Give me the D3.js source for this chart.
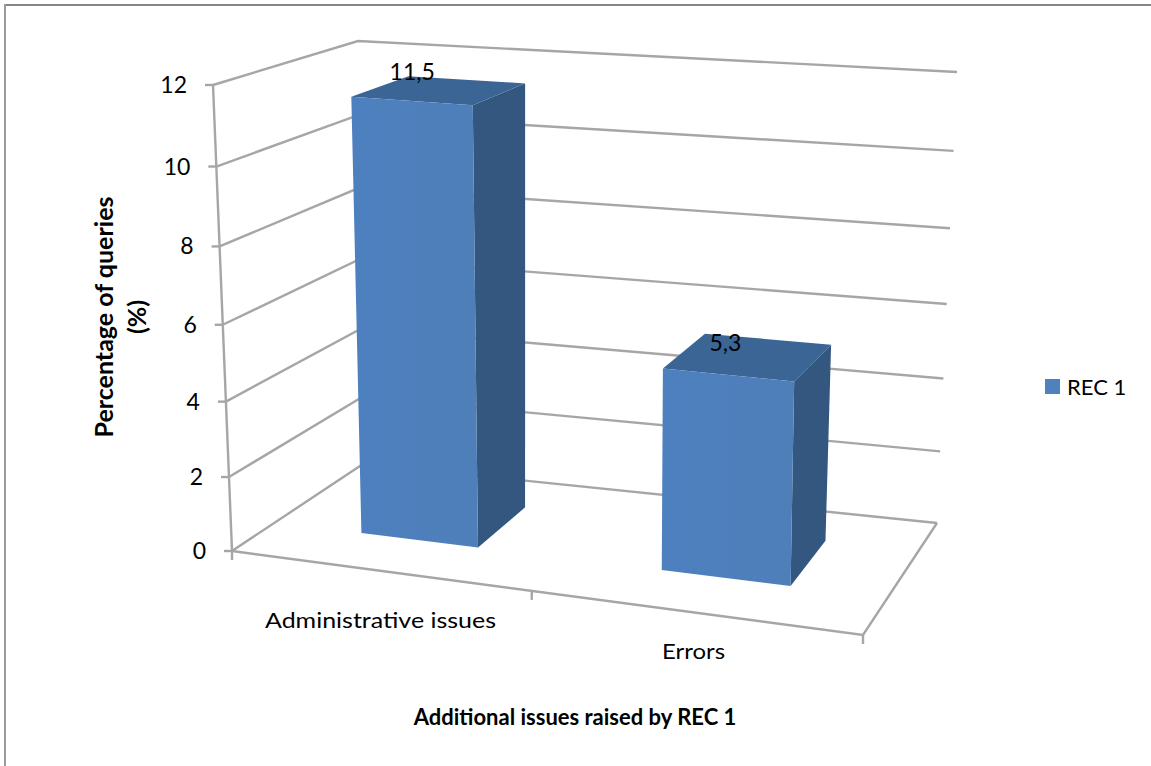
<!DOCTYPE html>
<html>
<head>
<meta charset="utf-8">
<script src="https://cdn.jsdelivr.net/npm/d3@7"></script>
<style>
  html, body { margin: 0; padding: 0; background: #fff; overflow: hidden; }
  svg { display: block; }
  text { font-family: Lato, "Open Sans", sans-serif; fill: #000; }
</style>
</head>
<body>
<div id="chart"></div>
<script>
// Values shown in the chart
const categories = ["Administrative issues", "Errors"];
const seriesName = "REC 1";
const seriesValues = [11.5, 5.3];
const valueLabels = ["11,5", "5,3"];
const yTicks = [0, 2, 4, 6, 8, 10, 12];
const xTitle = "Additional issues raised by REC 1";
const yTitleLines = ["Percentage of queries", "(%)"];

const width = 1151, height = 766;

const svg = d3.select("#chart").append("svg")
  .attr("width", width).attr("height", height);

// Frame: only the top and left edges fall inside the canvas
svg.append("line").attr("x1", 4).attr("x2", width).attr("y1", 5).attr("y2", 5)
  .attr("stroke", "#868686").attr("stroke-width", 2);
svg.append("line").attr("x1", 5).attr("x2", 5).attr("y1", 4).attr("y2", height)
  .attr("stroke", "#9c9c9c").attr("stroke-width", 2);

// Screen positions of the eight corners of the 3D plot box
const box = {
  floor: { fl: [232, 551], fr: [863, 635], bl: [363, 464], br: [937, 523] },
  ceil:  { fl: [213, 85],  fr: [872, 135], bl: [358, 41],  br: [957, 72] }
};

// Foreshortening along an axis, applied on top of the linear scales
const warp = k => v => v / (v + k * (1 - v));
const warpX = warp(1.105);
const warpY = warp(1.06);

const xScale = d3.scaleBand().domain(categories).range([0.003, 1.005])
  .paddingInner(0.6).paddingOuter(0.3);
const yScale = d3.scaleLinear().domain([0, 12]).range([0, 1]);
const depthFront = 0.33, depthBack = 0.75;

const mix = (a, b, t) => [a[0] + (b[0] - a[0]) * t, a[1] + (b[1] - a[1]) * t];

// Projects (across, depth, value) into screen space
function project(u, d, value) {
  const ux = warpX(u), t = warpY(yScale(value));
  const onPlane = p => mix(mix(p.fl, p.fr, ux), mix(p.bl, p.br, ux), d);
  return mix(onPlane(box.floor), onPlane(box.ceil), t);
}
const pathOf = pts => d3.line()(pts) + "Z";

const grey = "#a6a6a6";
const walls = svg.append("g").attr("fill", "none")
  .attr("stroke", grey).attr("stroke-width", 2.4);

// Gridlines across the side wall and the back wall
walls.selectAll("path.grid").data(yTicks).join("path")
  .attr("class", "grid")
  .attr("d", v => d3.line()([project(0, 0, v), project(0, 1, v), project(1, 1, v)]));

// Value axis and floor outline
walls.append("path").attr("d", d3.line()([project(0, 0, 0), project(0, 0, 12)]));
walls.append("path").attr("d", d3.line()([
  project(0, 0, 0), project(1, 0, 0), project(1, 1, 0)
]));

// Tick marks on both axes
walls.selectAll("path.ytick").data(yTicks).join("path")
  .attr("class", "ytick")
  .attr("d", v => {
    const p = project(0, 0, v);
    return d3.line()([[p[0] - 8, p[1]], p]);
  });
walls.selectAll("path.xtick").data([0, 0.5, 1]).join("path")
  .attr("class", "xtick")
  .attr("d", u => {
    const p = project(u, 0, 0);
    return d3.line()([p, [p[0], p[1] + 9]]);
  });

// Axis labels
svg.selectAll("text.ylab").data(yTicks).join("text")
  .attr("class", "ylab")
  .attr("x", v => project(0, 0, v)[0] - 26)
  .attr("y", v => project(0, 0, v)[1] + 8)
  .attr("text-anchor", "end")
  .attr("font-size", 23)
  .text(d => d);

// Category labels sit under the floor, stretched to the wide Calibri-like set
const catLabelPos = [[380.5, 628], [693.5, 659]];
const catLabelLen = [231, 63];
svg.selectAll("text.xlab").data(categories).join("text")
  .attr("class", "xlab")
  .attr("x", (d, i) => catLabelPos[i][0])
  .attr("y", (d, i) => catLabelPos[i][1])
  .attr("text-anchor", "middle")
  .attr("font-size", 22)
  .attr("textLength", (d, i) => catLabelLen[i])
  .attr("lengthAdjust", "spacingAndGlyphs")
  .text(d => d);

// Bars as shaded boxes
const rows = categories.map((c, i) => ({ c, v: seriesValues[i], label: valueLabels[i] }));
const defs = svg.append("defs");
const grad = defs.append("linearGradient").attr("id", "frontFill")
  .attr("x1", 0).attr("x2", 1).attr("y1", 0).attr("y2", 0);
grad.append("stop").attr("offset", 0).attr("stop-color", "#4d80bf");
grad.append("stop").attr("offset", 1).attr("stop-color", "#4f7fb9");

const bars = svg.selectAll("g.bar").data(rows).join("g").attr("class", "bar");
bars.each(function (r) {
  const g = d3.select(this);
  const u0 = xScale(r.c), u1 = u0 + xScale.bandwidth();
  const ftl = project(u0, depthFront, r.v), ftr = project(u1, depthFront, r.v);
  const fbl = project(u0, depthFront, 0),   fbr = project(u1, depthFront, 0);
  const btl = project(u0, depthBack, r.v),  btr = project(u1, depthBack, r.v);
  const bbr = project(u1, depthBack, 0);
  g.append("path").attr("d", pathOf([ftr, btr, bbr, fbr])).attr("fill", "#33577f");
  g.append("path").attr("d", pathOf([ftl, btl, btr, ftr])).attr("fill", "#3a6595");
  g.append("path").attr("d", pathOf([ftl, ftr, fbr, fbl])).attr("fill", "url(#frontFill)");
});

// Data labels sit near the back of each bar's top
const labelOffset = [[-54, 0], [-42, 12]];
svg.selectAll("text.val").data(rows).join("text")
  .attr("class", "val")
  .attr("x", (r, i) => project(xScale(r.c) + xScale.bandwidth() / 2, depthBack, r.v)[0] + labelOffset[i][0])
  .attr("y", (r, i) => project(xScale(r.c) + xScale.bandwidth() / 2, depthBack, r.v)[1] + labelOffset[i][1])
  .attr("font-size", 23)
  .attr("text-anchor", "middle")
  .text(r => r.label);

// Titles
svg.append("text")
  .attr("x", 575).attr("y", 725)
  .attr("text-anchor", "middle")
  .attr("font-size", 22).attr("font-weight", 700)
  .text(xTitle);

svg.append("g")
  .attr("transform", "translate(113,317) rotate(-90)")
  .selectAll("text").data(yTitleLines).join("text")
  .attr("y", (d, i) => i * 33)
  .attr("text-anchor", "middle")
  .attr("font-size", 25).attr("font-weight", 700)
  .text(d => d);

// Legend
const legend = svg.append("g").attr("transform", "translate(1045,379)");
legend.append("rect").attr("width", 15).attr("height", 15).attr("fill", "#4f81bd");
legend.append("text").attr("x", 22).attr("y", 16).attr("font-size", 22).text(seriesName);
</script>
</body>
</html>
